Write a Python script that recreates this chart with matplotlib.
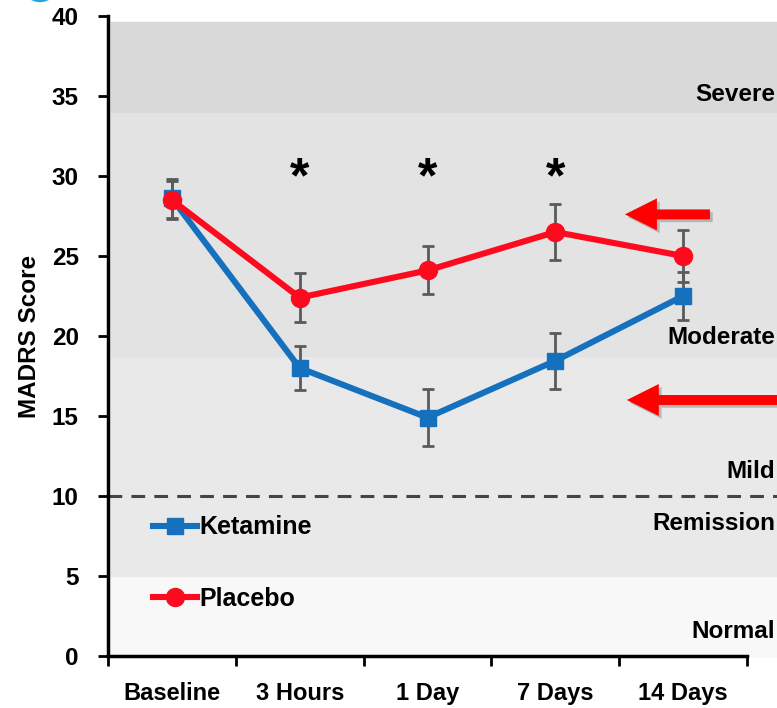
import numpy as np
import matplotlib
matplotlib.use('Agg')
from matplotlib import pyplot as plt
from matplotlib import patches, patheffects, transforms

plt.rcParams['font.family'] = ['Liberation Sans', 'DejaVu Sans']
plt.rcParams['font.weight'] = 'bold'

# time points and MADRS means / error bars
timepoints = ['Baseline', '3 Hours', '1 Day', '7 Days', '14 Days']
ketamine = [28.6, 18.0, 14.9, 18.45, 22.5]
ketamine_err = [1.2, 1.4, 1.8, 1.75, 1.5]
placebo = [28.5, 22.4, 24.1, 26.5, 25.0]
placebo_err = [1.2, 1.55, 1.5, 1.75, 1.65]
signif = [1, 2, 3]  # time points marked with *

# severity bands (lower, upper, colour) and their labels
bands = [(0, 5, '#f8f8f8'), (5, 18.75, '#e9e9e9'), (18.75, 34, '#e3e3e3'), (34, 39.6, '#d9d9d9')]
band_labels = [('Severe', 35.1), ('Moderate', 19.9), ('Mild', 11.5), ('Remission', 8.3), ('Normal', 1.5)]

blue = '#1570be'
red = '#fe0a1e'

fig = plt.figure(figsize=(7.77, 7.08), dpi=100)
ax = fig.add_axes([108/777, 52/708, 639/777, 640/708])
x = np.arange(len(timepoints))

xr = 1 + 30/639  # bands run past the right end of the axis
for lo, hi, c in bands:
    ax.axhspan(lo, hi, xmin=0.004, xmax=xr, color=c, zorder=0, clip_on=False)
ax.axhline(10, xmin=0, xmax=xr, color='#444444', lw=2.2, ls=(0, (4.5, 3)), zorder=1, clip_on=False)

# band names sit against the right edge of the figure
lab_tr = transforms.blended_transform_factory(fig.transFigure, ax.transData)
for lab, yv in band_labels:
    ax.text(775/777, yv, lab, transform=lab_tr, ha='right', va='center', fontsize=17.5, fontweight='bold')

ax.errorbar(x, ketamine, yerr=ketamine_err, fmt='none', ecolor='#5a5a5a', elinewidth=2, capsize=4, capthick=2, zorder=3)
ax.errorbar(x, placebo, yerr=placebo_err, fmt='none', ecolor='#5a5a5a', elinewidth=2, capsize=4, capthick=2, zorder=3)
ax.plot(x, ketamine, color=blue, lw=4.4, marker='s', ms=11.5, label='Ketamine', zorder=4)
ax.plot(x, placebo, color=red, lw=4.4, marker='o', ms=13, label='Placebo', zorder=5)

for i in signif:
    ax.text(x[i], 29.8, '*', ha='center', va='center', fontsize=36, fontweight='bold')

# red arrows pointing at the two curves
shadow = [patheffects.SimplePatchShadow(offset=(2, -2), shadow_rgbFace='#888888', alpha=0.5), patheffects.Normal()]
for x0, x1, yv in [(4.21, 3.545, 27.6), (4.9, 3.56, 16.0)]:
    arr = patches.FancyArrow(x0, yv, x1 - x0, 0, width=0.62, head_width=2.0, head_length=0.25,
                             length_includes_head=True, color='#ff0000', lw=0, clip_on=False, zorder=6)
    arr.set_path_effects(shadow)
    ax.add_patch(arr)

ax.legend(loc='upper left', bbox_to_anchor=(0.035, 0.255), frameon=False, fontsize=18,
          handlelength=1.75, handletextpad=0.1, labelspacing=1.9)

ax.set_xlim(-0.5, 4.5)
ax.set_ylim(0, 40)
ax.set_yticks(np.arange(0, 41, 5))
ax.set_xticks(np.arange(-0.5, 4.6, 1))
ax.set_xticklabels([])
ax.set_xticks(x, minor=True)
ax.set_xticklabels(timepoints, minor=True, fontsize=17, fontweight='bold')
ax.tick_params(axis='x', which='minor', length=0, pad=19)
ax.tick_params(axis='both', which='major', width=2, length=7, direction='out')
ax.tick_params(axis='y', labelsize=17.5, pad=14)
plt.setp(ax.get_yticklabels(), fontweight='bold')
ax.set_ylabel('MADRS Score', fontsize=17.5, fontweight='bold', labelpad=8)

for s in ['top', 'right']:
    ax.spines[s].set_visible(False)
for s in ['left', 'bottom']:
    ax.spines[s].set_linewidth(2.5)
ax.patch.set_alpha(0)

# partly visible blue badge in the top-left corner
fig.patches.append(patches.Circle((40/777, 1 + 14/708), 17/777, transform=fig.transFigure,
                                  color='#29a6df', clip_on=False))

fig.savefig('out.png', dpi=100)
